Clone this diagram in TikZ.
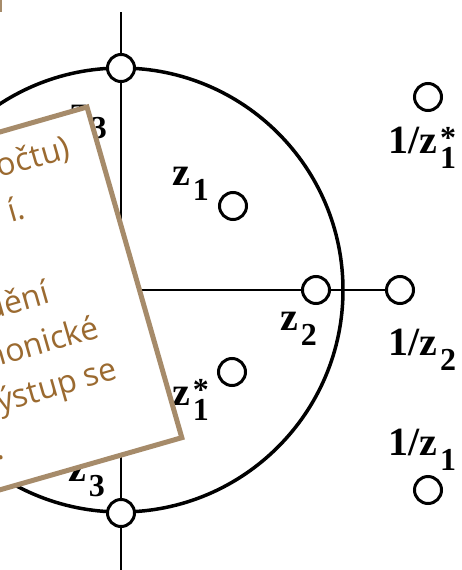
\documentclass[tikz,border=0pt]{standalone}
\usepackage{fontspec}
\setmainfont{Liberation Serif}
\newfontfamily\notefont{Open Sans}
\usetikzlibrary{backgrounds}
\definecolor{frametan}{RGB}{166,139,106}
\definecolor{textbrown}{RGB}{155,106,48}
% z label: main part, superscript, subscript
\newcommand{\zname}[3]{\textbf{#1}\kern3pt\rlap{\raisebox{5pt}{\fontsize{32}{32}\selectfont\textbf{#2}}}\raisebox{-15pt}{\fontsize{32}{32}\selectfont\textbf{#3}}}

\begin{document}
\begin{tikzpicture}[x=1pt,y=-1pt,
    every node/.style={font=\fontsize{40}{40}\selectfont},
    pole/.style={circle,draw,line width=3pt,fill=white,minimum size=27pt,inner sep=0pt},
    lab/.style={anchor=base west,inner sep=0pt},
    axis/.style={line width=1.3pt},
    note/.style={draw=frametan,line width=5pt,fill=white},
    notetext/.style={anchor=base east,inner sep=0pt,text=textbrown,
      font=\notefont\fontsize{32}{32}\selectfont}]
  \useasboundingbox (0,0) rectangle (461,570);
  \clip (0,0) rectangle (461,570);
  \coordinate (o) at (121,290);
  \coordinate (top) at (121,12);
  \coordinate (bot) at (121,570);
  \coordinate (west) at (0,290);
  % poles and zeros
  \node[pole] (n3) at (121,68) {};
  \node[pole] (s3) at (121,513) {};
  \node[pole] (z1) at (233,206) {};
  \node[pole] (z2) at (316,290) {};
  \node[pole] (z1c) at (232,372) {};
  \node[pole] (iz1c) at (428,97) {};
  \node[pole] (iz2) at (400,290) {};
  \node[pole] (iz1) at (428,490) {};
  \begin{scope}[on background layer]
    \draw[line width=3.5pt] (o) circle (222pt);
    \draw[axis] (top) -- (bot);
    \draw[axis] (west) -- (iz2);
  \end{scope}
  \node[lab] (ln3) at (70,123) {\zname{z}{}{3}};
  \node[lab] (lz1) at (172,185) {\zname{z}{}{1}};
  \node[lab] (lz2) at (280,330) {\zname{z}{}{2}};
  \node[lab] (lz1c) at (172,405) {\zname{z}{*}{1}};
  \node[lab] (ls3) at (68,481) {\zname{z}{}{3}};
  \node[lab] (liz1c) at (388,153) {\zname{1/z}{*}{1}};
  \node[lab] (liz2) at (388,355) {\zname{1/z}{}{2}};
  \node[lab] (liz1) at (388,455) {\zname{1/z}{}{1}};
  % note box
  \draw[frametan,line width=3pt] (0,0) -- (0,12);
  \begin{scope}[shift={(87,107)},rotate=16,transform shape]
    \draw[note] (0,0) rectangle (-420,344);
    \node[notetext] (t1) at (-28,44) {očtu)};
    \node[notetext] (t2) at (-88,90) {í.};
    \node[notetext] (t3) at (-88,178) {dění};
    \node[notetext] (t4) at (-50,225) {monické};
    \node[notetext] (t5) at (-44,270) {výstup se};
    \node[notetext] (t6) at (-175,315) {.};
  \end{scope}
\end{tikzpicture}
\end{document}
